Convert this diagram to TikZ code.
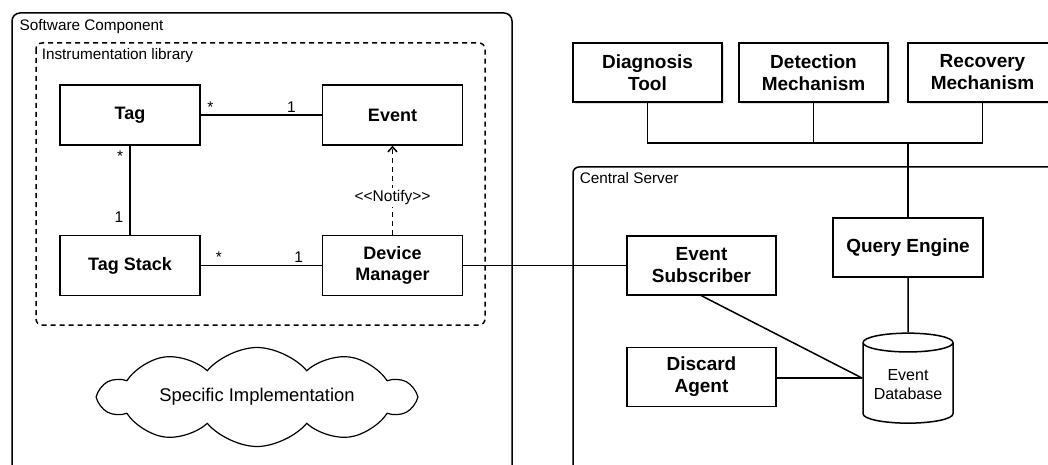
\documentclass[tikz,border=0pt]{standalone}
\usepackage{fontspec}
\setmainfont{Liberation Sans}
\usetikzlibrary{shapes.geometric,shapes.symbols,arrows.meta,shadows}

\begin{document}
\begin{tikzpicture}[x=1pt, y=-1pt, line width=1.5pt,
  cls/.style={draw, minimum width=140pt, minimum height=60pt, align=center, font=\fontsize{18}{21}\selectfont\bfseries},
  srv/.style={cls, minimum width=149pt, minimum height=59pt, font=\fontsize{19}{22}\selectfont\bfseries},
  tool/.style={srv, fill=white, drop shadow={shadow xshift=1.5pt, shadow yshift=-2pt, opacity=.25}},
  mult/.style={font=\fontsize{15.5}{18}\selectfont, inner sep=2pt},
  lbl/.style={anchor=north west, font=\fontsize{15.3}{18}\selectfont, inner sep=0pt},
  dsh/.style={dash pattern=on 5pt off 4pt}]
\useasboundingbox (0,0) rectangle (1048,465);
\clip (0,0) rectangle (1048,465);

% containers
\draw[rounded corners=8pt] (12,480) -- (12,13) -- (512,13) -- (512,480);
\node[lbl] (swlbl) at (19,19) {Software Component};
\draw[dsh, rounded corners=6pt] (36,43) rectangle (485,325);
\node[lbl] (liblbl) at (41,48) {Instrumentation library};
\draw[rounded corners=6pt] (573,480) -- (573,167) -- (1070,167);
\node[lbl] (cslbl) at (579,172) {Central Server};

% instrumentation classes
\node[cls] (tag) at (130,115) {Tag};
\node[cls] (event) at (392.5,115) {Event};
\node[cls] (stack) at (130,265.5) {Tag Stack};
\node[cls] (dev) at (392.5,265.5) {Device\\Manager};

\node[cloud, draw, line width=1.2pt, cloud puffs=10, cloud puff arc=100, cloud ignores aspect,
  minimum width=314pt, minimum height=99pt, inner sep=0pt,
  font=\fontsize{18.4}{22}\selectfont] (impl) at (257,397) {Specific Implementation};

% server side
\node[tool] (diag) at (647.5,72.5) {Diagnosis\\Tool};
\node[tool] (detect) at (813.5,72.5) {Detection\\Mechanism};
\node[tool] (recov) at (982.5,72.5) {Recovery\\Mechanism};
\node[srv, minimum width=150pt] (query) at (908,247.5) {Query Engine};
\node[srv] (sub) at (701.5,265.5) {Event\\Subscriber};
\node[srv] (disc) at (701.5,377) {Discard\\Agent};
\node[cylinder, shape border rotate=90, draw, aspect=.25, minimum width=90pt, minimum height=90pt,
  align=center, font=\fontsize{16}{19}\selectfont] (db) at (908,385) {Event\\Database};
\coordinate (dbin) at (db.west |- db.shape center);

% associations
\draw (tag) -- node[mult, pos=.08, above] (m1) {*} node[mult, pos=.75, above] (m2) {1} (event);
\draw (tag) -- node[mult, pos=.12, left, xshift=-4pt] (m3) {*} node[mult, pos=.8, left, xshift=-4pt] (m4) {1} (stack);
\draw (stack) -- node[mult, pos=.15, above] (m5) {*} node[mult, pos=.81, above] (m6) {1} (dev);
\draw[dsh, -{Straight Barb[length=5pt, width=9pt]}] (dev) -- node[mult, fill=white, pos=.42] (ntf) {<\kern0pt<Notify>\kern0pt>} (event);

\draw (dev) -- (sub);
\draw (sub.south) -- (dbin);
\draw (disc.east |- dbin) -- (dbin);
\draw (query) -- (db);

% tool bus
\coordinate (hub) at (query.north |- 0,143);
\draw (diag) |- (hub) -| (recov);
\draw (detect) -- (detect |- hub);
\draw (hub) -- (query);
\end{tikzpicture}
\end{document}
